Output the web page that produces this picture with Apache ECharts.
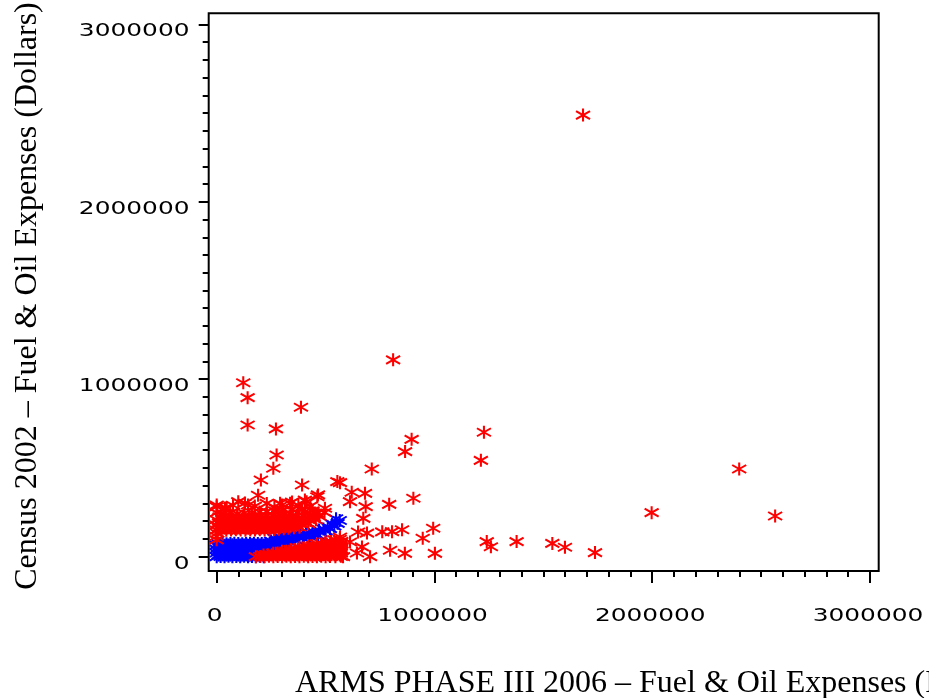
<!DOCTYPE html>
<html>
<head>
<meta charset="utf-8">
<script src="https://cdn.jsdelivr.net/npm/echarts@6/dist/echarts.min.js"></script>
<style>html,body{margin:0;padding:0;background:#fff}#c{width:929px;height:698px}</style>
</head>
<body>
<div id="c"></div>
<script>
// values in thousands of dollars: [ARMS 2006, Census 2002]
const blueCluster = [
 [0,0],[18,1],[36,0],[54,2],[72,0],[90,1],[108,0],[126,2],[144,0],[162,1],[180,0],[198,2],[216,0],
 [9,10],[27,11],[45,9],[63,10],[81,12],[99,10],[117,9],[135,11],[153,10],[171,12],[189,10],[207,11],
 [0,21],[18,22],[36,20],[54,21],[72,23],[90,21],[108,20],[126,22],[144,21],[162,23],[180,21],[198,22],[216,20],[234,22],
 [9,32],[27,33],[45,31],[63,32],[81,34],[99,32],[117,31],[135,33],[153,32],[171,34],[189,32],[207,33],[225,31],[243,33],
 [0,43],[18,44],[36,42],[54,43],[72,45],[90,43],[108,42],[126,44],[144,43],[162,45],[180,43],[198,44],[216,42],[234,44],[252,43],
 [9,54],[27,55],[45,53],[63,54],[81,56],[99,54],[117,53],[135,55],[153,54],[171,56],[189,54],[207,55],[225,53],[243,55],[261,54],[279,56],
 [0,65],[18,66],[36,64],[54,65],[72,67],[90,65],[108,64],[126,66],[144,65],[162,67],[180,65],[198,66],[216,64],[234,66],[252,65],[270,67],[288,66],[306,68],
 [9,74],[27,75],[45,73],[63,74],[81,76],[99,74],[117,73],[135,75],[153,74],[171,76],[189,74],[207,75],[225,73],[243,75],[261,76],[279,78],[297,80],[315,82],[333,84]
];
const blueTail = [
 [250,88],[275,92],[300,96],[325,100],[350,106],[375,112],[400,118],[425,124],[450,130],[475,138],[500,146],
 [520,158],[540,172],[555,188],[565,204],[548,214],[530,184],[510,168],[490,156],
 [265,104],[290,110],[320,116],[350,122],[380,128],[410,134],[440,142],[470,150],[360,96],[395,104],[430,112],[465,120]
];
const redBand = [
 [0,95],[0,115],[3,132],
 [0,150],[22,151],[44,149],[66,150],[88,152],[110,150],[132,149],[154,151],[176,150],[198,152],[220,150],[242,151],[264,153],[286,155],[308,157],[330,160],[355,163],[380,166],
 [11,164],[33,165],[55,163],[77,164],[99,166],[121,164],[143,163],[165,165],[187,164],[209,166],[231,164],[253,166],[275,168],[297,170],[319,172],[342,175],[366,178],[392,182],[420,186],
 [0,178],[22,179],[44,177],[66,178],[88,180],[110,178],[132,177],[154,179],[176,178],[198,180],[220,178],[242,180],[264,182],[286,184],[308,186],[330,189],[355,192],[380,196],[405,200],[430,204],[455,208],
 [11,192],[33,193],[55,191],[77,192],[99,194],[121,192],[143,191],[165,193],[187,192],[209,194],[231,193],[253,195],[275,197],[297,199],[319,202],[342,205],[366,209],[392,213],[418,218],[445,222],[472,227],
 [0,208],[26,210],[52,207],[78,209],[104,211],[130,208],[156,210],[182,212],[208,210],[234,213],[260,215],[286,218],[312,221],[340,225],[368,229],[398,234],[430,239],[462,245],[495,250],
 [13,225],[40,227],[67,224],[94,226],[121,228],[148,225],[175,227],[202,229],[229,231],[256,234],[283,237],[310,240],[340,244],[372,249],[405,254],[440,259],
 [0,248],[30,244],[62,247],[95,243],[128,246],[162,249],[196,252],[230,255],[268,258],[306,262],[348,266],[392,270]
];
const redBlob = [
 [180,0],[200,1],[220,0],[240,2],[260,0],[280,1],[300,0],[320,2],[340,0],[360,1],[380,0],[400,2],[420,0],[440,1],[460,0],[480,2],[500,0],[520,1],[545,0],[570,2],
 [215,10],[235,11],[255,9],[275,10],[295,12],[315,10],[335,9],[355,11],[375,10],[395,12],[415,10],[435,11],[455,9],[475,10],[495,12],[515,10],[540,11],[565,9],
 [260,20],[280,21],[300,19],[320,20],[340,22],[360,20],[380,19],[400,21],[420,20],[440,22],[460,20],[480,21],[500,19],[520,20],[545,22],[570,20],
 [300,30],[320,31],[340,29],[360,30],[380,32],[400,30],[420,29],[440,31],[460,30],[480,32],[500,30],[522,31],[546,29],[572,31],
 [340,40],[360,41],[380,39],[400,40],[420,42],[440,40],[460,39],[480,41],[500,40],[522,42],[546,40],[570,41],
 [380,50],[400,51],[420,49],[440,50],[460,52],[480,50],[500,49],[522,51],[546,50],[568,52],
 [420,60],[440,61],[460,59],[480,60],[500,62],[522,60],[546,59],[568,61],
 [460,72],[482,73],[505,71],[528,72],[552,74],[572,72],
 [500,84],[525,85],[550,83],[572,86],
 [540,96],[565,98]
];
const redScatter = [
 [0,282],[0,291],[38,274],[46,273],[75,290],[99,310],[130,302],[144,291],[175,285],[190,346],[203,432],[230,300],[265,280],
 [291,301],[300,291],[337,301],[346,308],[375,290],[392,404],[405,319],[413,310],[430,285],[462,338],[465,348],[451,246],[497,273],
 [554,423],[566,417],[620,363],[681,357],[612,310],[684,282],[673,216],[712,494],[792,295],[903,329],
 [760,140],[805,141],[851,152],[994,160],[946,104],[649,139],[690,133],[566,111],[612,83],[667,55],
 [644,21],[796,36],[864,19],[704,0],[580,0],[534,21],[474,10],[1002,19]
];
const redOutliers = [
 [122,980],[142,896],[142,742],[387,842],[272,720],[275,573],[260,498],
 [810,1109],[895,661],[865,592],[1227,701],[1213,543],
 [1240,85],[1259,56],[1377,85],[1541,75],[1599,53],[1737,23],
 [1997,248],[1682,2488],[2399,494],[2564,229]
];
const tickValues = [0, 1000000, 2000000, 3000000];
const tickLabels = ['0', '1000000', '2000000', '3000000'];
const xTitle = 'ARMS PHASE III 2006 \u2013 Fuel & Oil Expenses (Dollars)';
const yTitle = 'Census 2002 \u2013 Fuel & Oil Expenses (Dollars)';

const toDollars = arr => arr.map(p => [p[0] * 1000, p[1] * 1000]);
const blueData = toDollars([].concat(blueCluster, blueTail));
const redData = toDollars([].concat(redBand, redBlob, redScatter, redOutliers));

const starPath = 'path://M0,-6.5L0,6.5M-7,-4L7,4M-7,4L7,-4';
const tickStyle = { color: '#000', width: 2 };
const labelFont = '18px "DejaVu Sans"';
const stretch = 1.38;

const chart = echarts.init(document.getElementById('c'), null, { renderer: 'canvas' });
chart.setOption({
  animation: false,
  backgroundColor: '#fff',
  grid: [
    { left: 208.7, right: 50.3, top: 13.3, bottom: 127, show: true, borderColor: '#000', borderWidth: 2, backgroundColor: 'transparent' },
    { left: 216.7, right: 59, top: 13.3, bottom: 127 },
    { left: 208.7, right: 50.3, top: 24.3, bottom: 141.3 }
  ],
  xAxis: [
    { gridIndex: 0, type: 'value', min: -36700, max: 3039500, show: false },
    { gridIndex: 1, type: 'value', min: tickValues[0], max: tickValues[3], interval: tickValues[1] - tickValues[0],
      axisLine: { show: false },
      axisTick: { show: true, length: 12, lineStyle: tickStyle },
      minorTick: { show: true, splitNumber: 10, length: 6, lineStyle: tickStyle },
      splitLine: { show: false }, minorSplitLine: { show: false },
      axisLabel: { show: false }
    },
    { gridIndex: 2, type: 'value', min: 0, max: 1, show: false }
  ],
  yAxis: [
    { gridIndex: 0, type: 'value', min: -80600, max: 3061400, show: false },
    { gridIndex: 1, type: 'value', min: 0, max: 1, show: false },
    { gridIndex: 2, type: 'value', min: tickValues[0], max: tickValues[3], interval: tickValues[1] - tickValues[0],
      axisLine: { show: false },
      axisTick: { show: true, length: 10, lineStyle: tickStyle },
      minorTick: { show: true, splitNumber: 10, length: 6, lineStyle: tickStyle },
      splitLine: { show: false }, minorSplitLine: { show: false },
      axisLabel: { show: false }
    }
  ],
  series: [
    { type: 'scatter', xAxisIndex: 0, yAxisIndex: 0, data: blueData, symbol: starPath, symbolSize: [14, 13],
      itemStyle: { color: 'rgba(0,0,0,0)', borderColor: '#0000ff', borderWidth: 2, opacity: 1 }, silent: true },
    { type: 'scatter', xAxisIndex: 0, yAxisIndex: 0, data: redData, symbol: starPath, symbolSize: [14, 13],
      itemStyle: { color: 'rgba(0,0,0,0)', borderColor: '#ff0000', borderWidth: 2, opacity: 1 }, silent: true }
  ]
});

// tick labels placed at the axis scale positions (glyphs widened like the original's extended font)
const graphics = [
  { type: 'text', left: 295, top: 668, silent: true,
    style: { text: xTitle, fill: '#000', font: '32px "Liberation Serif"' } },
  { type: 'text', x: 28, y: 296, rotation: Math.PI / 2, silent: true,
    style: { text: yTitle, fill: '#000', font: '32px "Liberation Serif"', align: 'center', verticalAlign: 'middle' } }
];
tickValues.forEach((v, i) => {
  const px = chart.convertToPixel({ xAxisIndex: 1 }, v);
  graphics.push({ type: 'text', x: px - 2, y: 616, scaleX: stretch, silent: true,
    style: { text: tickLabels[i], fill: '#000', font: labelFont, align: 'center', verticalAlign: 'middle' } });
  const py = chart.convertToPixel({ yAxisIndex: 2 }, v);
  graphics.push({ type: 'text', x: 189.5, y: py + 7.5, scaleX: stretch, silent: true,
    style: { text: tickLabels[i], fill: '#000', font: labelFont, align: 'right', verticalAlign: 'middle' } });
});
chart.setOption({ graphic: graphics });
</script>
</body>
</html>
